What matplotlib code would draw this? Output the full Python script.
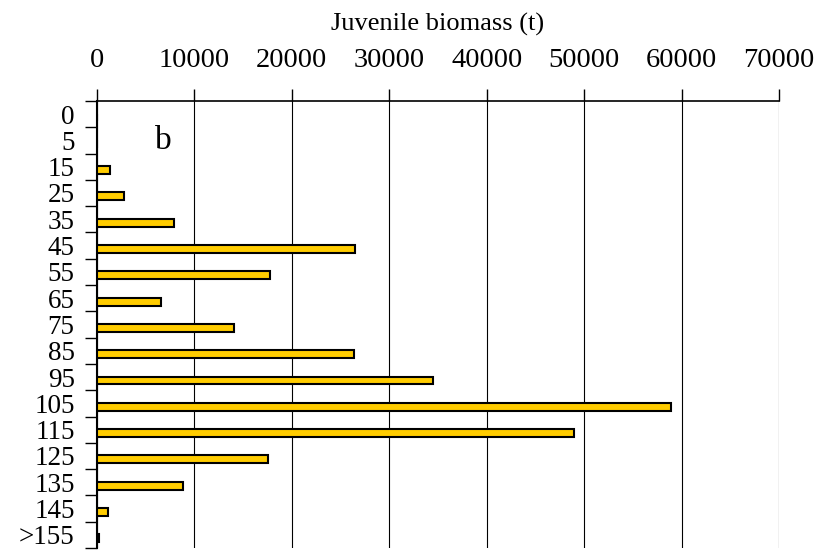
import numpy as np
import matplotlib
matplotlib.use("Agg")
import matplotlib.pyplot as plt
from matplotlib.ticker import FixedLocator

# Juvenile biomass by length class (panel b)
LENGTH_CLASSES = ["0", "5", "15", "25", "35", "45", "55", "65", "75", "85",
                  "95", "105", "115", "125", "135", "145", ">155"]
BIOMASS = [0, 0, 1300, 2800, 7900, 26500, 17800, 6600, 14100, 26400,
           34500, 58900, 49000, 17600, 8800, 1100, 200]
X_TICKS = [0, 10000, 20000, 30000, 40000, 50000, 60000, 70000]

plt.rcParams["font.family"] = ["Liberation Serif", "DejaVu Serif"]

fig = plt.figure(figsize=(8.28, 5.53), dpi=100)
ax = fig.add_axes([0.1171, 0.009, 0.8237, 0.8085])

n = len(LENGTH_CLASSES)
y_pos = np.arange(n) + 0.5
ax.barh(y_pos + 0.13, BIOMASS, height=0.3, color="#FFCC00",
        edgecolor="black", linewidth=1.5, zorder=3)

ax.set_xlim(0, 70000)
ax.set_ylim(n, 0)

ax.xaxis.tick_top()
ax.xaxis.set_label_position("top")
ax.set_xticks(X_TICKS)
ax.set_xticklabels([str(t) for t in X_TICKS])
ax.tick_params(axis="x", direction="out", length=9, width=1, pad=11,
               labelsize=20.5, color="black")
ax.set_xlabel("Juvenile biomass (t)", fontsize=19, labelpad=13)

ax.set_yticks(y_pos)
ax.set_yticklabels(LENGTH_CLASSES)
ax.tick_params(axis="y", which="major", length=0, pad=16, labelsize=19.5)
ax.yaxis.set_minor_locator(FixedLocator(np.arange(n + 1)))
ax.tick_params(axis="y", which="minor", direction="out", length=9, width=1)

ax.grid(axis="x", color="black", linewidth=0.8, zorder=1)
ax.spines["right"].set_visible(False)
ax.spines["bottom"].set_visible(False)
ax.spines["left"].set_linewidth(1.5)
ax.spines["top"].set_linewidth(1.2)

ax.text(6000, 1.5, "b", fontsize=24, va="center", ha="left")

fig.savefig("out.png", dpi=100)
